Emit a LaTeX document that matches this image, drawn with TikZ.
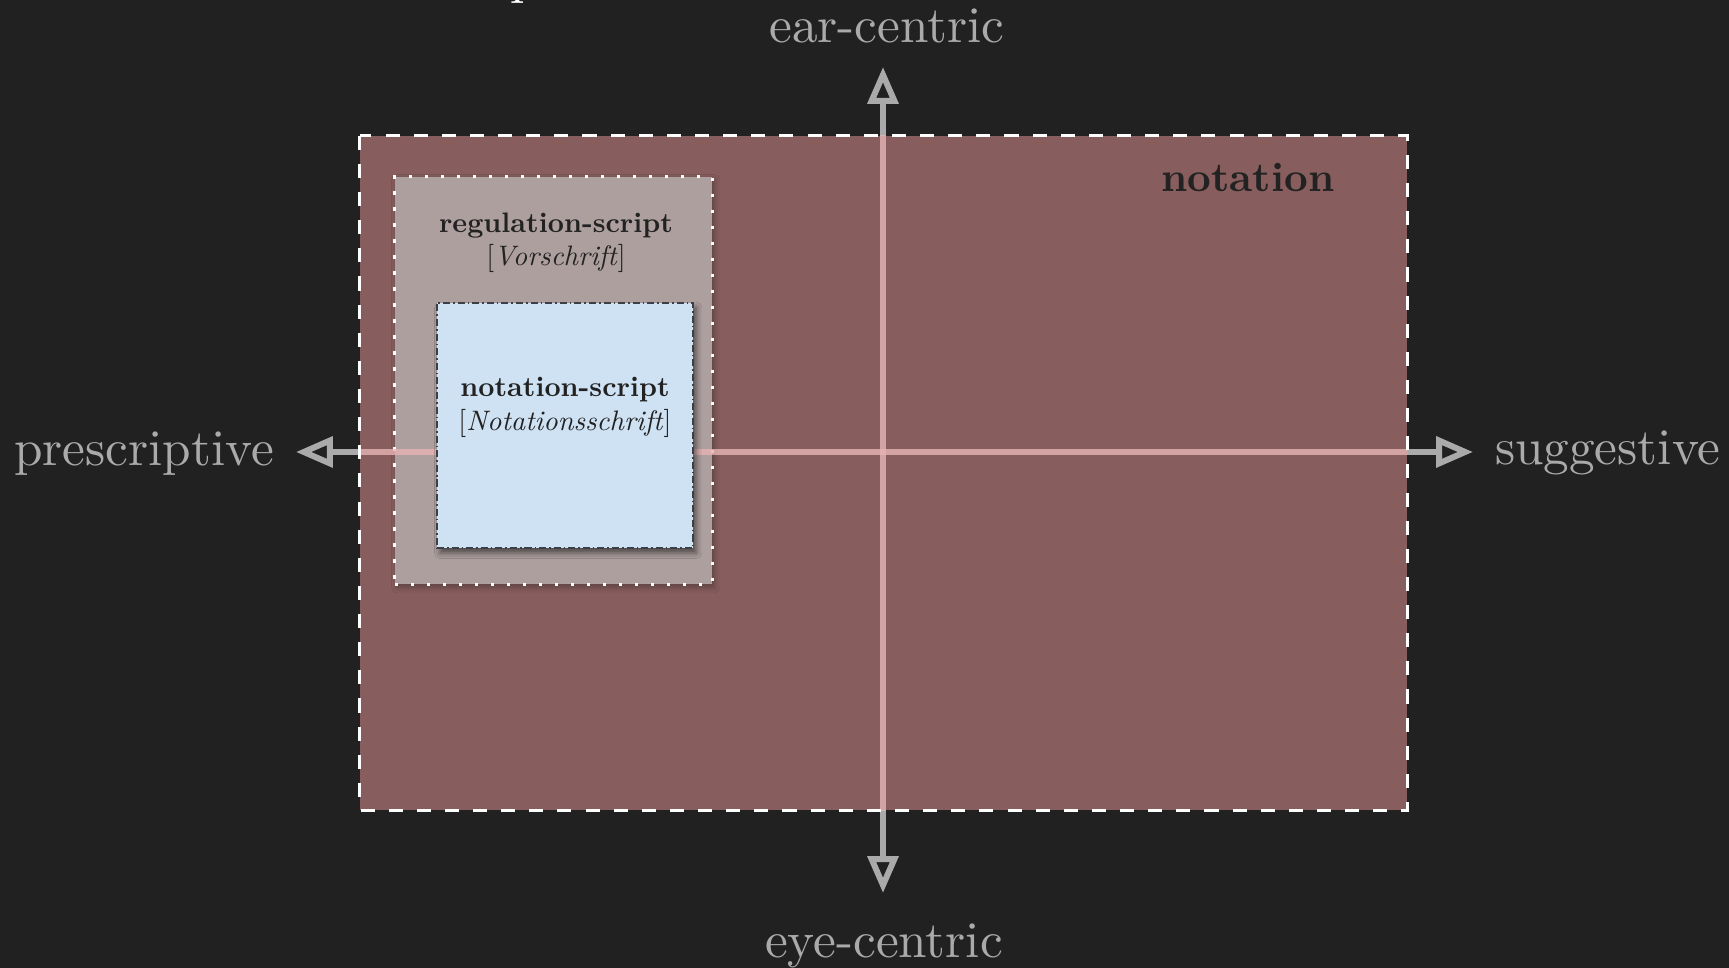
\documentclass[tikz,border=0pt]{standalone}
\usetikzlibrary{arrows.meta,shadows.blur}

\definecolor{bg}{HTML}{212121}
\definecolor{notationfill}{HTML}{875D5D}
\definecolor{regfill}{HTML}{AE9F9F}
\definecolor{nsfill}{HTML}{CFE2F3}
\definecolor{axisgray}{HTML}{AAAAAA}
\definecolor{axispink}{HTML}{E7B4B4}
\definecolor{ink}{HTML}{222222}
\definecolor{nsborder}{HTML}{3C4044}

\tikzset{
  textten/.style={inner sep=0pt, font=\fontsize{10}{12}\selectfont},
  axislabel/.style={textten, text=axisgray, scale=1.457},
  axisline/.style={draw=axisgray, line width=1.7pt,
    {Triangle[open,length=10.5pt,width=8.6pt]}-{Triangle[open,length=10.5pt,width=8.6pt]}},
  innerline/.style={draw=axispink, draw opacity=0.8, line width=1.7pt},
  areabox/.style={fill=notationfill, inner sep=0pt, outer sep=0pt},
  areaborder/.style={draw=white, line width=0.85pt, dash pattern=on 4pt off 4pt},
  regbox/.style={fill=regfill, draw=white, line width=0.85pt,
    dash pattern=on 1pt off 3.55pt, inner sep=0pt, outer sep=0pt,
    blur shadow={shadow xshift=0.6pt, shadow yshift=-0.9pt, shadow opacity=30, shadow blur radius=1.6pt}},
  nsbox/.style={fill=nsfill, draw=nsborder, line width=0.6pt,
    dash pattern=on 2pt off 0.85pt on 0.45pt off 0.85pt, inner sep=0pt, outer sep=0pt,
    blur shadow={shadow xshift=0.9pt, shadow yshift=-1.4pt, shadow opacity=55, shadow blur radius=1.6pt}},
  boxtitle/.style={textten, text=ink, anchor=base, scale=0.801, font=\fontsize{10}{12}\selectfont\bfseries},
  boxsub/.style={textten, text=ink, anchor=base, scale=0.801},
}

\begin{document}
\begin{tikzpicture}[x=0.01cm, y=-0.01cm]
  % canvas
  \fill[bg] (0,0) rectangle (1729,968);
  \useasboundingbox (0,0) rectangle (1729,968);

  % partly visible heading above the canvas
  \node[textten, anchor=base west, text=white, scale=1.457] (heading) at (509,-6) {p};

  % axis end points
  \coordinate (west)  at (296,452);
  \coordinate (east)  at (1473,452);
  \coordinate (north) at (883,67);
  \coordinate (south) at (883,893);

  % axes
  \draw[axisline] (west) -- (east);
  \draw[axisline] (south) -- (north);

  % axis labels
  \node[axislabel, anchor=base] (earlabel) at (887,43) {ear-centric};
  \node[axislabel, anchor=base] (eyelabel) at (884,958) {eye-centric};
  \node[axislabel, anchor=base east] (prelabel) at (275,466) {prescriptive};
  \node[axislabel, anchor=base west] (suglabel) at (1494,465) {suggestive};

  % notation area
  \node[areabox, minimum width=10.47cm, minimum height=6.74cm] (notation) at (883.5,473) {};
  \node[textten, anchor=base, text=ink, scale=1.172, font=\fontsize{10}{12}\selectfont\bfseries] (notationtitle) at (1248,192) {notation};

  % regulation-script box
  \node[regbox, minimum width=3.17cm, minimum height=4.07cm] (regulation) at (553.5,380.5) {};
  \node[boxtitle] (regtitle) at (556,233) {regulation-script};
  \node[boxsub] (regsub) at (556,266) {[\textit{Vorschrift}]};

  % axes seen through the notation area
  \begin{scope}
    \clip (notation.north west) rectangle (notation.south east);
    \draw[innerline] (west) -- (east);
    \draw[innerline] (south) -- (north);
  \end{scope}

  % notation-script box
  \node[nsbox, minimum width=2.56cm, minimum height=2.45cm] (notationscript) at (565,425.5) {};
  \node[boxtitle] (nstitle) at (565,397) {notation-script};
  \node[boxsub] (nssub) at (565,431) {[\textit{Notationsschrift}]};

  % dashed border of the notation area
  \draw[areaborder] (notation.north west) rectangle (notation.south east);
\end{tikzpicture}
\end{document}
